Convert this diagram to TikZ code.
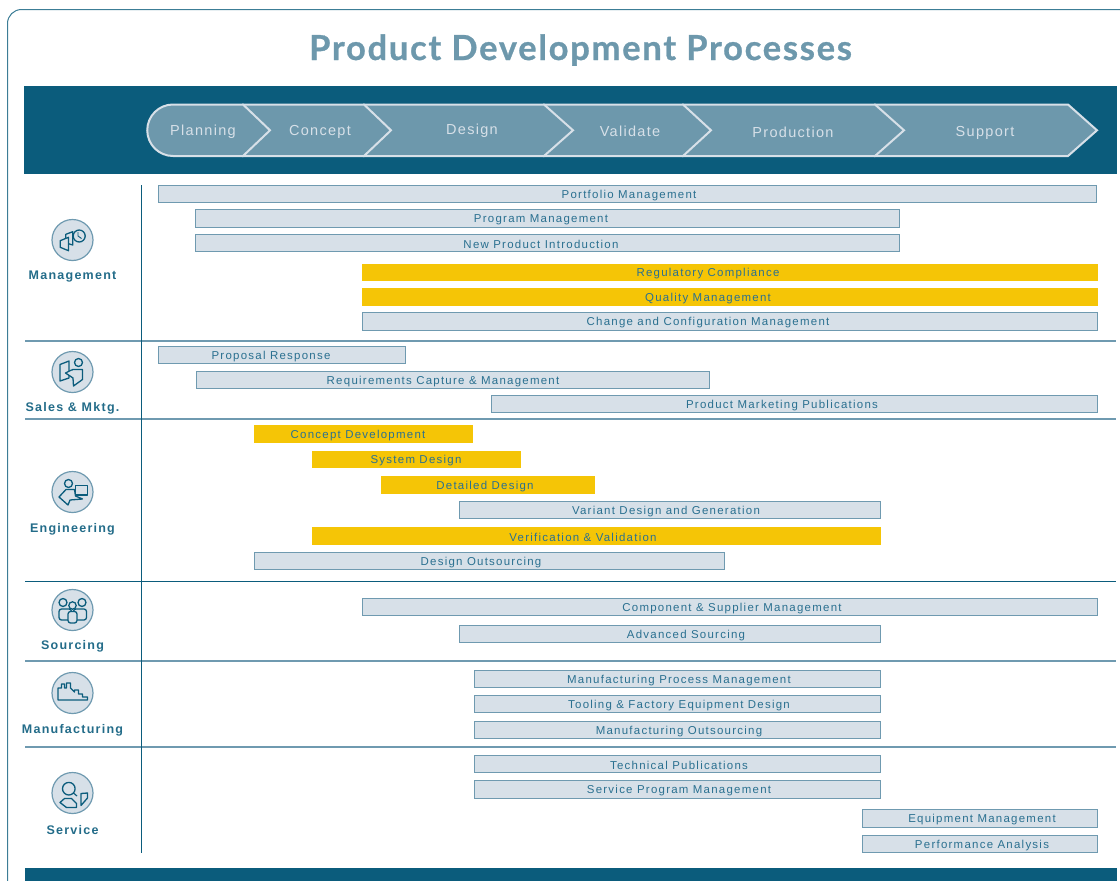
\documentclass[tikz,border=0pt]{standalone}
\usepackage{fontspec}
\usepackage{xcolor}
\setmainfont{Liberation Sans}
\newfontfamily\titlefont[LetterSpace=5,BoldFeatures={FakeBold=0.8}]{Lato}
\newfontfamily\barfont[LetterSpace=11]{Liberation Sans}
\newfontfamily\stagefont[LetterSpace=9]{Liberation Sans}
\newfontfamily\groupfont[LetterSpace=10]{Liberation Sans}
\definecolor{deepblue}{HTML}{0B5C7C}
\definecolor{midblue}{HTML}{6D98AC}
\definecolor{paleblue}{HTML}{D7E0E8}
\definecolor{barline}{HTML}{6F9AB0}
\definecolor{bartext}{HTML}{2A7090}
\definecolor{gold}{HTML}{F5C506}
\tikzset{
  plainbar/.style={draw=barline,fill=paleblue,line width=0.9pt,minimum width={(\xb-\xa-0.9)*1pt}},
  goldbar/.style={fill=gold,minimum width={(\xb-\xa)*1pt}},
  bartitle/.style={font=\barfont\fontsize{11.45}{13}\selectfont,text=bartext,inner sep=0pt,yshift=-1.4pt},
  stagelabel/.style={font=\stagefont\fontsize{14.5}{18}\selectfont,text=paleblue,inner sep=0pt,yshift=-1.2pt},
  grouplabel/.style={font=\groupfont\bfseries\fontsize{12.5}{14}\selectfont,text=deepblue!90,inner sep=0pt,yshift=-1.5pt},
  iconball/.style={circle,draw=barline,fill=paleblue,line width=1.2pt,minimum size=41pt,inner sep=0pt},
  iconline/.style={draw=deepblue,line width=1.3pt,fill=paleblue,line join=round},
  rowline/.style={draw=barline,line width=1.2pt},
  stageshape/.style={draw=paleblue,fill=midblue,line width=2pt,line join=miter},
}
\begin{document}
\begin{tikzpicture}[x=1pt,y=-1pt]
  \useasboundingbox (0,0) rectangle (1120,881);
  % frame
  \draw[draw=deepblue!80,line width=1pt,rounded corners=14pt] (7.5,900) -- (7.5,9.5) -- (1140,9.5);
  \node[font=\titlefont\bfseries\fontsize{34.5}{38}\selectfont,text=midblue,inner sep=0pt,anchor=base] (title) at (580.5,60) {Product Development Processes};
  % bands
  \fill[deepblue] (24,86) rectangle (1116.5,174);
  \fill[deepblue] (25,868) rectangle (1116.5,881);
  % stages, last one first so that each tip lies over the next body
  \foreach \xa/\xb/\xc in {1068/1097/875,875/904/683,683/711/544,544/573/364,364/391/243}
    \draw[stageshape] (\xc,104.5) -- (\xa,104.5) -- (\xb,130.3) -- (\xa,156) -- (\xc,156) -- cycle;
  \draw[stageshape] (243,104.5) -- (270,130.3) -- (243,156) -- (173,156) arc (90:270:25.75) -- cycle;
  \foreach \nm/\tx/\ty/\lab in {planning/203/131/Planning,concept/320/131/Concept,design/472/129.5/Design,
      validate/630/130.5/Validate,production/793/131.5/Production,support/985/132/Support}
    \node[stagelabel] (\nm) at (\tx,\ty) {\lab};
  % rows
  \foreach \yy in {341,419,661,747}
    \draw[rowline] (25,\yy) -- (1116,\yy);
  \draw[draw=deepblue,line width=1pt] (25,581) -- (1116,581);
  \draw[draw=deepblue,line width=1pt] (141.5,185) -- (141.5,853);
  % bars
  \foreach \nm/\xa/\xb/\yc/\tx/\sty/\lab in {
      portfolio/158/1097/194/629/plainbar/Portfolio Management,
      program/195/900/218.5/541/plainbar/Program Management,
      npi/195/900/243/541/plainbar/New Product Introduction,
      regulatory/362/1098/272.5/708/goldbar/Regulatory Compliance,
      quality/362/1098/297/708/goldbar/Quality Management,
      change/362/1098/321.5/708/plainbar/Change and Configuration Management,
      proposal/158/406/355/271/plainbar/Proposal Response,
      reqs/196/710/380/443/plainbar/Requirements Capture \& Management,
      marketing/491/1098/404/782/plainbar/Product Marketing Publications,
      conceptdev/254/473/434/358/goldbar/Concept Development,
      system/312/521/459.5/416/goldbar/System Design,
      detailed/381/595/485/485/goldbar/Detailed Design,
      variant/459/881/510/666/plainbar/Variant Design and Generation,
      verify/312/881/536/583/goldbar/Verification \& Validation,
      outsourcing/254/725/561/481/plainbar/Design Outsourcing,
      component/362/1098/607/732/plainbar/Component \& Supplier Management,
      advanced/459/881/634/686/plainbar/Advanced Sourcing,
      mpm/474/881/679/679/plainbar/Manufacturing Process Management,
      tooling/474/881/704/679/plainbar/Tooling \& Factory Equipment Design,
      mfgout/474/881/730/679/plainbar/Manufacturing Outsourcing,
      techpub/474/881/764/679/plainbar/Technical Publications,
      spm/474/881/789.5/679/plainbar/Service Program Management,
      equipment/862/1098/818.5/982/plainbar/Equipment Management,
      performance/862/1098/844/982/plainbar/Performance Analysis}
  {
    \node[\sty,anchor=west,inner sep=0pt,minimum height=17.5pt] (\nm) at (\xa,\yc) {};
    \node[bartitle] (\nm-text) at (\tx,\yc) {\lab};
  }
  % group names
  \foreach \nm/\ty/\lab in {management/275.5/Management,sales/406.5/Sales \& Mktg.,engineering/527.5/Engineering,
      sourcing/644.5/Sourcing,manufacturing/728.5/Manufacturing,service/828.5/Service}
    \node[grouplabel] (\nm-label) at (72.5,\ty) {\lab};
  \foreach \nm/\ty in {management/240,sales/372,engineering/492,sourcing/610,manufacturing/693,service/793}
    \node[iconball] (\nm-icon) at (72.5,\ty) {};
  % management icon
  \begin{scope}[shift={(72.5,240)}]
    \draw[iconline] (-6.7,-5.7) -- (0.3,-8.3) -- (0.3,5) -- (-6.7,3) -- cycle;
    \draw[iconline] (-12.3,0.7) -- (-4,-2.7) -- (-4,10.7) -- (-12.3,7.3) -- cycle;
    \draw[iconline] (6.7,-4) circle (6);
    \draw[draw=deepblue,line width=0.9pt] (5.5,-8) -- (5.5,-4) -- (9,-1.5);
  \end{scope}
  % sales icon
  \begin{scope}[shift={(72.5,372)}]
    \draw[iconline] (-12.5,9) -- (-12.5,-7.5) -- (-3.5,-11) -- (-3.5,6) -- cycle;
    \draw[iconline] (-7,1) -- (-1,-2) -- (0,-2) -- (0,-2.5) -- (10,-2.5) -- (10,7.5) -- (1,14) -- (0.5,6) -- cycle;
    \draw[iconline] (6,-9.5) circle (4);
  \end{scope}
  % engineering icon
  \begin{scope}[shift={(72.5,492)}]
    \draw[iconline] (-13.5,5) -- (-6.5,-2.5) -- (2,-2.5) -- (3,4) -- (10,7) -- (-2.5,8) -- (-4.5,13) -- cycle;
    \draw[iconline] (-4,-8.5) circle (4);
    \draw[iconline] (3,-6.5) rectangle (15,3);
  \end{scope}
  % sourcing icon
  \begin{scope}[shift={(72.5,610)}]
    \draw[iconline,rounded corners=2.5pt] (-13.5,10) -- (-13.5,-1) -- (-5,-1) -- (-1,-1) -- (-1,10) -- cycle;
    \draw[iconline,rounded corners=2.5pt] (1,10) -- (1,-1) -- (9,-1) -- (14,-1) -- (14,10) -- cycle;
    \draw[iconline] (-9.5,-7.5) circle (4);
    \draw[iconline] (9.5,-7.5) circle (4);
    \draw[iconline,rounded corners=2.5pt] (-4.5,13) -- (-4.5,1.5) -- (4.5,1.5) -- (4.5,13) -- cycle;
    \draw[iconline] (0,-4.5) circle (3.7);
  \end{scope}
  % manufacturing icon
  \begin{scope}[shift={(72.5,693)}]
    \draw[iconline] (-14.5,7) -- (-14.5,-5) -- (-11,-5) -- (-11,-9) -- (-8,-9) -- (-8,-5) -- (-6,-5) -- (-6,-10) -- (-2,-10)
      -- (-2,-5) -- (2,-1) -- (2,-3) -- (6,-3) -- (6,1) -- (10,1) -- (10,4) -- (15,4) -- (15,7) -- cycle;
  \end{scope}
  % service icon
  \begin{scope}[shift={(72.5,793)}]
    \draw[iconline] (-3.7,-4.3) circle (6.3);
    \draw[draw=deepblue,line width=1.2pt] (1,0) -- (4.5,3);
    \draw[iconline] (-12.5,9.5) -- (-8,5.5) -- (-1,5.5) -- (4,10.5) -- (4,14.5) -- (-6,14.5) -- cycle;
    \draw[iconline] (8.5,0.5) -- (15,0) -- (15,5) -- (8.5,12.5) -- cycle;
  \end{scope}
\end{tikzpicture}
\end{document}
